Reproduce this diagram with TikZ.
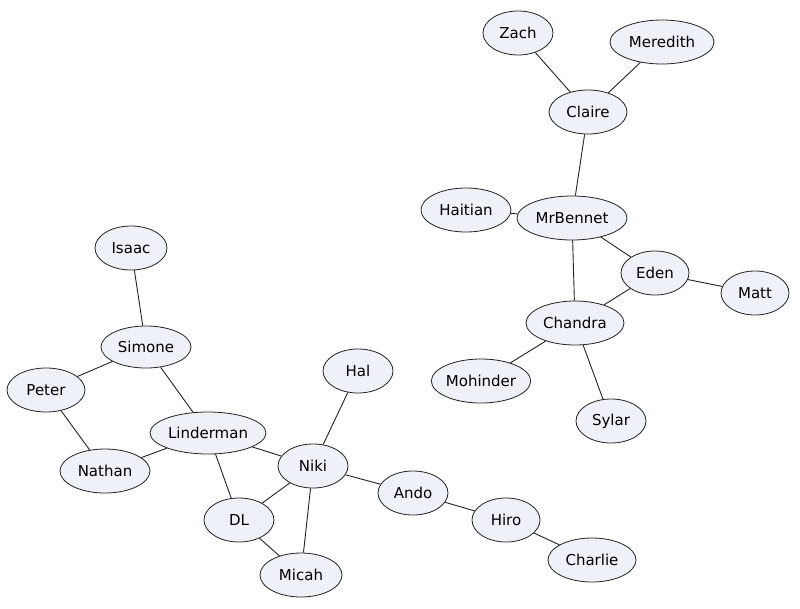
\documentclass[tikz,border=0pt]{standalone}
\usepackage{fontspec}
\setmainfont{DejaVu Sans}
\usetikzlibrary{shapes.geometric}
\definecolor{nodefill}{HTML}{EEF1F7}
\definecolor{nodeline}{HTML}{222222}

\tikzset{
  person/.style={ellipse, draw=nodeline, fill=nodefill, thick,
    minimum height=44pt, inner sep=0pt, font=\fontsize{15}{17}\selectfont},
  link/.style={draw=nodeline, line width=0.9pt}
}

\begin{document}
\begin{tikzpicture}[x=1pt, y=-1pt]
  \useasboundingbox (0,0) rectangle (800,608);

  % Bennet cluster
  \node[person, minimum width=70pt]  (zach)     at (518,33)  {Zach};
  \node[person, minimum width=104pt] (meredith) at (662,42)  {Meredith};
  \node[person, minimum width=78pt]  (claire)   at (588,112) {Claire};
  \node[person, minimum width=90pt]  (haitian)  at (466,210) {Haitian};
  \node[person, minimum width=110pt] (mrbennet) at (572,218) {MrBennet};
  \node[person, minimum width=68pt]  (eden)     at (655,273) {Eden};
  \node[person, minimum width=68pt]  (matt)     at (755,293) {Matt};
  \node[person, minimum width=98pt]  (chandra)  at (575,323) {Chandra};
  \node[person, minimum width=92pt]  (mohinder) at (481,381) {Mohinder};
  \node[person, minimum width=70pt]  (sylar)    at (611,421) {Sylar};

  % Petrelli / Niki cluster
  \node[person, minimum width=72pt]  (isaac)     at (131,248) {Isaac};
  \node[person, minimum width=90pt, minimum height=42pt] (simone) at (146,347) {Simone};
  \node[person, minimum width=78pt]  (peter)     at (46,390)  {Peter};
  \node[person, minimum width=116pt, minimum height=42pt] (linderman) at (208,433) {Linderman};
  \node[person, minimum width=90pt]  (nathan)    at (105,471) {Nathan};
  \node[person, minimum width=70pt]  (hal)       at (358,371) {Hal};
  \node[person, minimum width=70pt]  (niki)      at (313,466) {Niki};
  \node[person, minimum width=70pt]  (ando)      at (413,493) {Ando};
  \node[person, minimum width=70pt]  (dl)        at (239,520) {DL};
  \node[person, minimum width=68pt]  (hiro)      at (506,520) {Hiro};
  \node[person, minimum width=82pt]  (micah)     at (301,575) {Micah};
  \node[person, minimum width=88pt]  (charlie)   at (592,560) {Charlie};

  % Links
  \draw[link] (zach) -- (claire);
  \draw[link] (meredith) -- (claire);
  \draw[link] (claire) -- (mrbennet);
  \draw[link] (haitian) -- (mrbennet);
  \draw[link] (mrbennet) -- (eden);
  \draw[link] (mrbennet) -- (chandra);
  \draw[link] (eden) -- (matt);
  \draw[link] (eden) -- (chandra);
  \draw[link] (chandra) -- (mohinder);
  \draw[link] (chandra) -- (sylar);

  \draw[link] (isaac) -- (simone);
  \draw[link] (simone) -- (peter);
  \draw[link] (simone) -- (linderman);
  \draw[link] (peter) -- (nathan);
  \draw[link] (nathan) -- (linderman);
  \draw[link] (linderman) -- (niki);
  \draw[link] (linderman) -- (dl);
  \draw[link] (hal) -- (niki);
  \draw[link] (niki) -- (dl);
  \draw[link] (niki) -- (micah);
  \draw[link] (niki) -- (ando);
  \draw[link] (dl) -- (micah);
  \draw[link] (ando) -- (hiro);
  \draw[link] (hiro) -- (charlie);
\end{tikzpicture}
\end{document}
